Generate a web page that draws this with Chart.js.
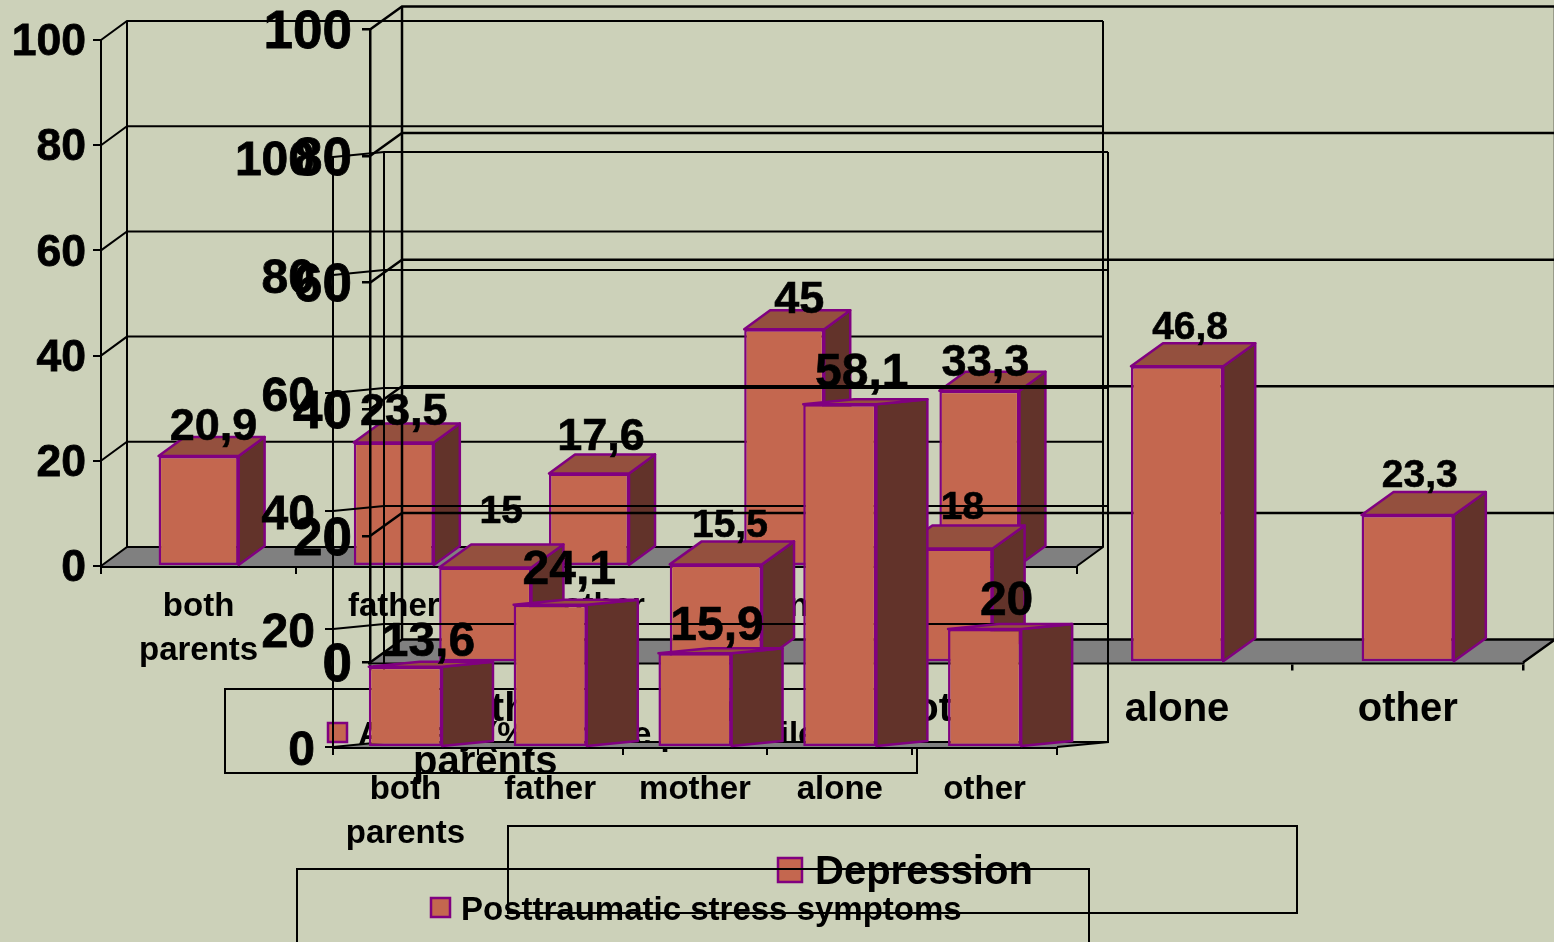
<!DOCTYPE html>
<html>
<head>
<meta charset="utf-8">
<title>Three overlapping charts</title>
<script src="https://cdn.jsdelivr.net/npm/chart.js@4"></script>
<style>
    html, body { margin: 0; padding: 0; background: #ccd1b9; overflow: hidden; }
    canvas { position: absolute; left: 0; top: 0; }
</style>
</head>
<body>
<canvas id="anxietyChart" width="1554" height="942"></canvas>
<canvas id="depressionChart" width="1554" height="942"></canvas>
<canvas id="stressChart" width="1554" height="942"></canvas>
<script>
    const categories = [['both', 'parents'], 'father', 'mother', 'alone', 'other'];
    const yTicks = [0, 20, 40, 60, 80, 100];

    const anxietyValues = [20.9, 23.5, 17.6, 45, 33.3];
    const depressionValues = [15, 15.5, 18, 46.8, 23.3];
    const stressValues = [13.6, 24.1, 15.9, 58.1, 20];

    const FRONT = '#c4674f', SIDE = '#62332a', TOP = '#94503e', EDGE = '#800080', FLOOR = '#808080';
    const FONT = '"Liberation Sans", Arial, sans-serif';

    // draws the fake 3D walls, floor and bar sides around the normal bars
    const box3d = {
        id: 'box3d',
        beforeDatasetsDraw(chart, args, o) {
            const c = chart.ctx, a = chart.chartArea, y = chart.scales.y;
            c.save();
            c.fillStyle = FLOOR;
            c.beginPath();
            c.moveTo(a.left, a.bottom);
            c.lineTo(a.left + o.dx, a.bottom + o.dy);
            c.lineTo(a.right + o.dx, a.bottom + o.dy);
            c.lineTo(a.right, a.bottom);
            c.closePath();
            c.fill();

            c.strokeStyle = '#000';
            c.lineWidth = o.line;
            yTicks.forEach(t => {
                const py = y.getPixelForValue(t);
                c.beginPath();
                c.moveTo(a.left, py);
                c.lineTo(a.left + o.dx, py + o.dy);
                c.lineTo(a.right + o.dx, py + o.dy);
                c.stroke();
            });
            c.beginPath();
            c.moveTo(a.left + o.dx, a.top + o.dy);
            c.lineTo(a.left + o.dx, a.bottom + o.dy);
            c.moveTo(a.right + o.dx, a.top + o.dy);
            c.lineTo(a.right + o.dx, a.bottom + o.dy);
            c.lineTo(a.right, a.bottom);
            c.stroke();

            c.strokeStyle = EDGE;
            c.lineWidth = 2.5;
            c.lineJoin = 'round';
            chart.getDatasetMeta(0).data.forEach(bar => {
                const r = bar.x + bar.width / 2, l = bar.x - bar.width / 2;
                c.fillStyle = SIDE;
                c.beginPath();
                c.moveTo(r, bar.y);
                c.lineTo(r + o.dx, bar.y + o.dy);
                c.lineTo(r + o.dx, bar.base + o.dy);
                c.lineTo(r, bar.base);
                c.closePath();
                c.fill();
                c.stroke();
                c.fillStyle = TOP;
                c.beginPath();
                c.moveTo(l, bar.y);
                c.lineTo(l + o.dx, bar.y + o.dy);
                c.lineTo(r + o.dx, bar.y + o.dy);
                c.lineTo(r, bar.y);
                c.closePath();
                c.fill();
                c.stroke();
            });
            c.restore();
        },
        afterDatasetsDraw(chart, args, o) {
            const c = chart.ctx;
            c.save();
            // legend
            const g = o.legend;
            c.strokeStyle = '#000';
            c.lineWidth = 2;
            c.strokeRect(g.x, g.y, g.w, g.h);
            c.fillStyle = FRONT;
            c.strokeStyle = EDGE;
            c.lineWidth = 2.5;
            c.fillRect(g.sx, g.sy, g.s, g.s);
            c.strokeRect(g.sx, g.sy, g.s, g.s);
            c.fillStyle = '#000';
            c.font = 'bold ' + g.size + 'px ' + FONT;
            c.textAlign = 'left';
            c.textBaseline = 'middle';
            c.fillText(chart.data.datasets[0].label, g.tx, g.sy + g.s / 2 + 3);

            // value labels
            c.strokeStyle = '#000';
            c.lineWidth = 0.6;
            c.font = 'bold ' + o.labelSize + 'px ' + FONT;
            c.textAlign = 'center';
            chart.getDatasetMeta(0).data.forEach((bar, i) => {
                const text = String(chart.data.datasets[0].data[i]).replace('.', ',');
                const ly = bar.y + o.dy - o.labelLift[i];
                c.fillText(text, bar.x + o.labelDx[i], ly);
                c.strokeText(text, bar.x + o.labelDx[i], ly);
            });
            c.restore();
        }
    };

    function makeChart(id, label, values, s) {
        return new Chart(document.getElementById(id), {
            type: 'bar',
            data: {
                labels: categories,
                datasets: [{
                    label: label,
                    data: values,
                    backgroundColor: FRONT,
                    borderColor: EDGE,
                    borderWidth: 2.5,
                    borderSkipped: false,
                    categoryPercentage: 1,
                    barPercentage: s.barRatio
                }]
            },
            options: {
                responsive: false,
                animation: false,
                layout: { autoPadding: false, padding: { top: s.top, right: 1554 - s.right, left: 0, bottom: 0 } },
                plugins: {
                    legend: { display: false },
                    tooltip: { enabled: false },
                    box3d: s
                },
                scales: {
                    x: {
                        afterFit(scale) { scale.height = 942 - s.bottom; },
                        grid: { drawOnChartArea: false, color: '#000', lineWidth: s.line, tickLength: 8 },
                        border: { display: true, color: '#000', width: s.line + 1 },
                        ticks: {
                            color: '#000',
                            autoSkip: false,
                            maxRotation: 0,
                            padding: s.xPad,
                            font: { family: FONT, weight: 'bold', size: s.xSize, lineHeight: s.xLine }
                        }
                    },
                    y: {
                        min: 0,
                        max: 100,
                        afterFit(scale) { scale.width = s.left; },
                        grid: { drawOnChartArea: false, color: '#000', lineWidth: s.line, tickLength: 8 },
                        border: { display: true, color: '#000', width: s.line },
                        ticks: {
                            color: '#000',
                            stepSize: 20,
                            padding: s.yPad,
                            labelOffset: s.yOffset,
                            textStrokeColor: '#000',
                            textStrokeWidth: 0.8,
                            // small line height keeps the big labels from pushing the plot top down
                            font: { family: FONT, weight: 'bold', size: s.ySize, lineHeight: 0.7 }
                        }
                    }
                }
            },
            plugins: [box3d]
        });
    }

    makeChart('anxietyChart', 'Anxiety (%)  above percentile', anxietyValues, {
        left: 101, right: 1077, top: 40, bottom: 566, dx: 26, dy: -19, line: 2,
        barRatio: 0.41, xSize: 33, xLine: 1.33, xPad: 11, ySize: 44.5, yPad: 7, yOffset: 3,
        labelSize: 45, labelDx: [15, 10, 12, 15, 6], labelLift: [9, 11, 17, 10, 8],
        legend: { x: 225, y: 689, w: 692, h: 84, sx: 328, sy: 723, s: 19, tx: 358, size: 33 }
    });

    makeChart('depressionChart', 'Depression', depressionValues, {
        left: 370, right: 1523, top: 29.5, bottom: 662.5, dx: 32, dy: -23, line: 2.5,
        barRatio: 0.4, xSize: 40, xLine: 1.325, xPad: 13, ySize: 53, yPad: 10, yOffset: 4,
        labelSize: 39, labelDx: [16, 14, 16, 13, 12], labelLift: [32, 15, 17, 15, 16],
        legend: { x: 508, y: 826, w: 789, h: 87, sx: 778, sy: 858, s: 24, tx: 815, size: 40 }
    });

    makeChart('stressChart', 'Posttraumatic stress symptoms', stressValues, {
        left: 333, right: 1057, top: 157, bottom: 747, dx: 51, dy: -5, line: 2,
        barRatio: 0.505, xSize: 33, xLine: 1.33, xPad: 13, ySize: 48, yPad: 10, yOffset: 5,
        labelSize: 48, labelDx: [23, 19, 22, 22, 22], labelLift: [19, 29, 21, 25, 22],
        legend: { x: 297, y: 869, w: 792, h: 90, sx: 431, sy: 898, s: 19, tx: 461, size: 33 }
    });
</script>
</body>
</html>
